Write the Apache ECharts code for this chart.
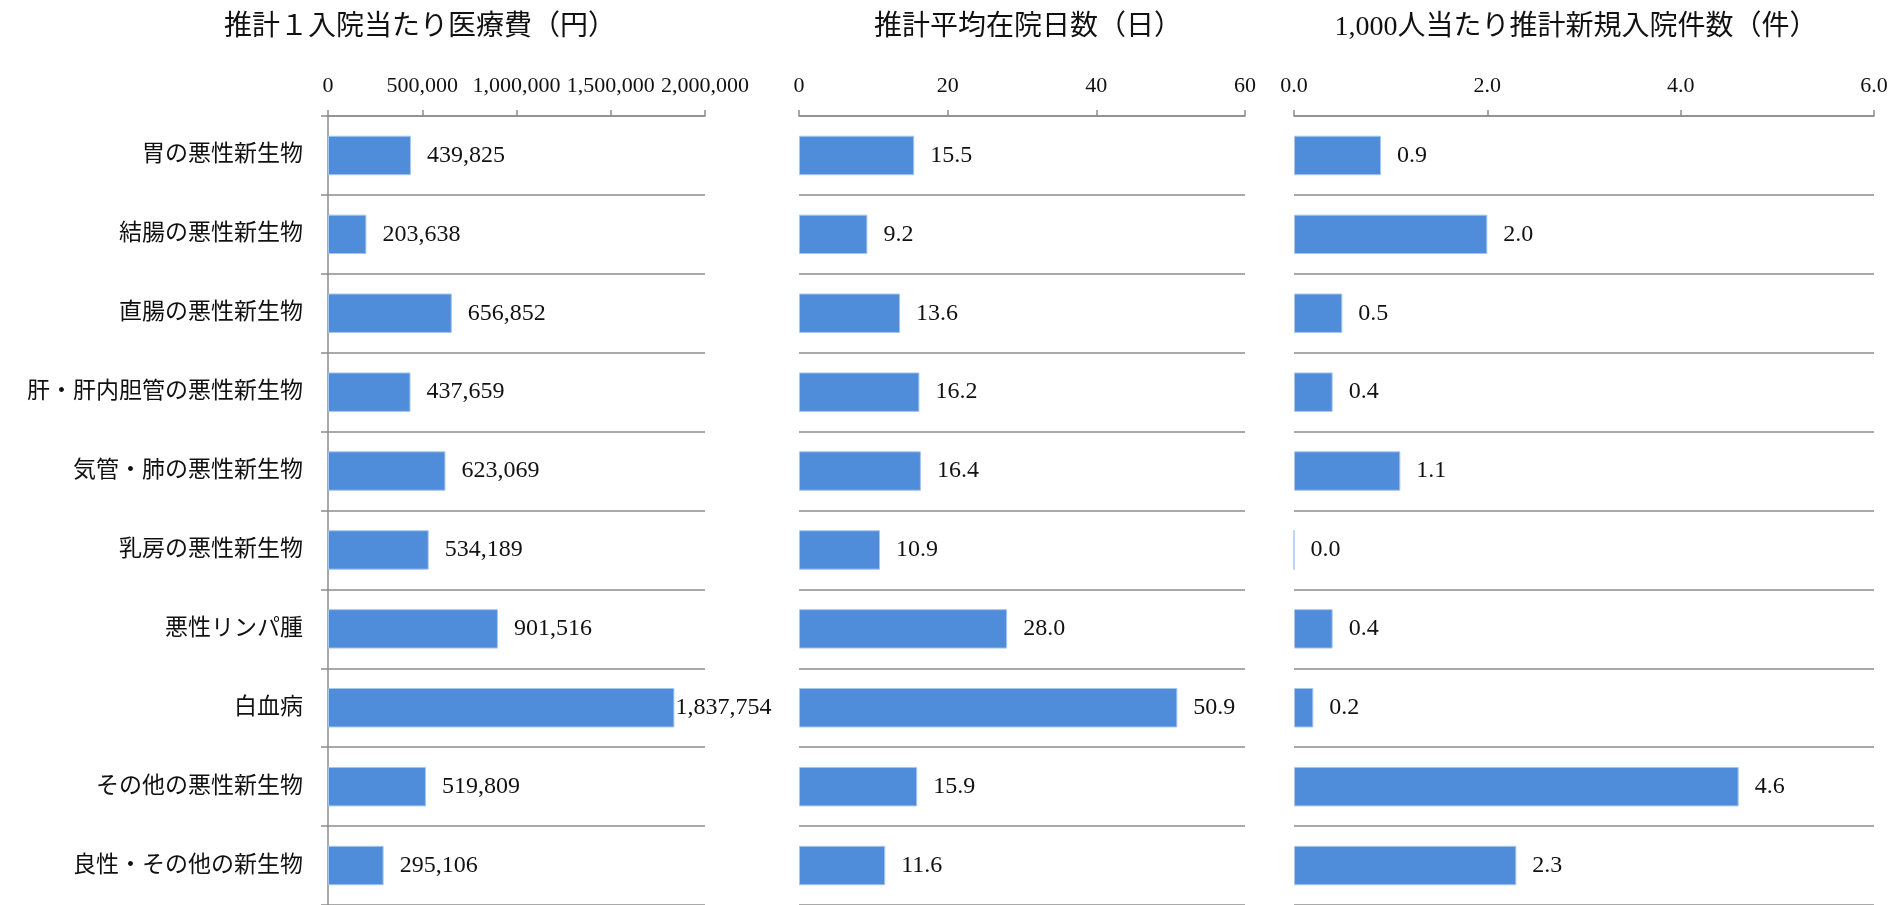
<!DOCTYPE html>
<html lang="ja">
<head>
<meta charset="utf-8">
<title>がん関連疾患の入院医療費・在院日数・新規入院件数</title>
<script src="https://cdn.jsdelivr.net/npm/echarts@6/dist/echarts.min.js"></script>
<style>
  html, body { margin: 0; padding: 0; background: #ffffff; }
  #chart { width: 1892px; height: 905px; }
</style>
</head>
<body>
<div id="chart"></div>
<script>
// Disease categories (top to bottom)
const categories = [
  '胃の悪性新生物',
  '結腸の悪性新生物',
  '直腸の悪性新生物',
  '肝・肝内胆管の悪性新生物',
  '気管・肺の悪性新生物',
  '乳房の悪性新生物',
  '悪性リンパ腫',
  '白血病',
  'その他の悪性新生物',
  '良性・その他の新生物'
];

// Estimated medical cost per admission (yen)
const costPerAdmission = [439825, 203638, 656852, 437659, 623069, 534189, 901516, 1837754, 519809, 295106];

// Estimated average length of stay (days)
const avgStayDays = [15.5, 9.2, 13.6, 16.2, 16.4, 10.9, 28.0, 50.9, 15.9, 11.6];

// Estimated new admissions per 1,000 people
const newAdmissionsPer1000 = [0.9, 2.0, 0.5, 0.4, 1.1, 0.0, 0.4, 0.2, 4.6, 2.3];

// Panel titles
const panelTitles = [
  '推計１入院当たり医療費（円）',
  '推計平均在院日数（日）',
  '1,000人当たり推計新規入院件数（件）'
];

// Value-axis ranges
const axisMax = [2000000, 60, 6];
const axisStep = [500000, 20, 2];

const FONT = "'Liberation Serif', 'Noto Sans CJK JP', serif";
const GRAY = '#8c8c8c';
const BLUE = '#4f8dda';

const fmtComma = v => Math.round(v).toLocaleString('en-US');
const fmtOne = v => Number(v).toFixed(1);
const axisFormatters = [fmtComma, v => String(v), fmtOne];
const labelFormatters = [fmtComma, fmtOne, fmtOne];

// Panel geometry
const panels = [
  { left: 328,  width: 377, titleX: 420 },
  { left: 799,  width: 446, titleX: 1028 },
  { left: 1294, width: 580, titleX: 1576 }
];
const seriesValues = [costPerAdmission, avgStayDays, newAdmissionsPer1000];

const option = {
  animation: false,
  backgroundColor: '#ffffff',
  textStyle: { fontFamily: FONT },
  title: panels.map((p, i) => ({
    text: panelTitles[i],
    left: p.titleX,
    top: 14,
    textAlign: 'center',
    padding: 0,
    textStyle: { fontFamily: FONT, fontSize: 28, fontWeight: 'normal', color: '#111' }
  })),
  grid: panels.map(p => ({ left: p.left, width: p.width, top: 116, height: 794, containLabel: false })),
  xAxis: panels.map((p, i) => ({
    type: 'value',
    gridIndex: i,
    position: 'top',
    min: 0,
    max: axisMax[i],
    interval: axisStep[i],
    axisLine: { show: true, lineStyle: { color: GRAY, width: 1.5 } },
    axisTick: { show: true, length: 6, lineStyle: { color: GRAY, width: 1.5 } },
    splitLine: { show: false },
    axisLabel: {
      fontFamily: FONT, fontSize: 22, color: '#111', margin: 19,
      formatter: axisFormatters[i]
    }
  })),
  yAxis: panels.map((p, i) => ({
    type: 'category',
    gridIndex: i,
    data: categories,
    inverse: true,
    axisLine: { show: i === 0, lineStyle: { color: GRAY, width: 1.5 } },
    axisTick: { show: i === 0, length: 7, lineStyle: { color: GRAY, width: 1.5 } },
    splitLine: { show: true, lineStyle: { color: GRAY, width: 1.5 } },
    axisLabel: {
      show: i === 0,
      fontFamily: FONT, fontSize: 23, color: '#111', margin: 25
    }
  })),
  series: seriesValues.map((vals, i) => ({
    type: 'bar',
    xAxisIndex: i,
    yAxisIndex: i,
    barWidth: '50%',
    itemStyle: { color: BLUE, borderColor: '#a8c6ee', borderWidth: 1 },
    label: {
      show: true,
      position: 'right',
      distance: 16,
      fontFamily: FONT,
      fontSize: 24,
      color: '#111',
      formatter: p => labelFormatters[i](p.value)
    },
    // Bars that reach near the end of the scale keep their label tight to the bar
    data: vals.map(v => (v / axisMax[i] > 0.9 ? { value: v, label: { distance: 1 } } : v))
  }))
};

const chart = echarts.init(document.getElementById('chart'), null, { renderer: 'canvas' });
chart.setOption(option);
</script>
</body>
</html>
